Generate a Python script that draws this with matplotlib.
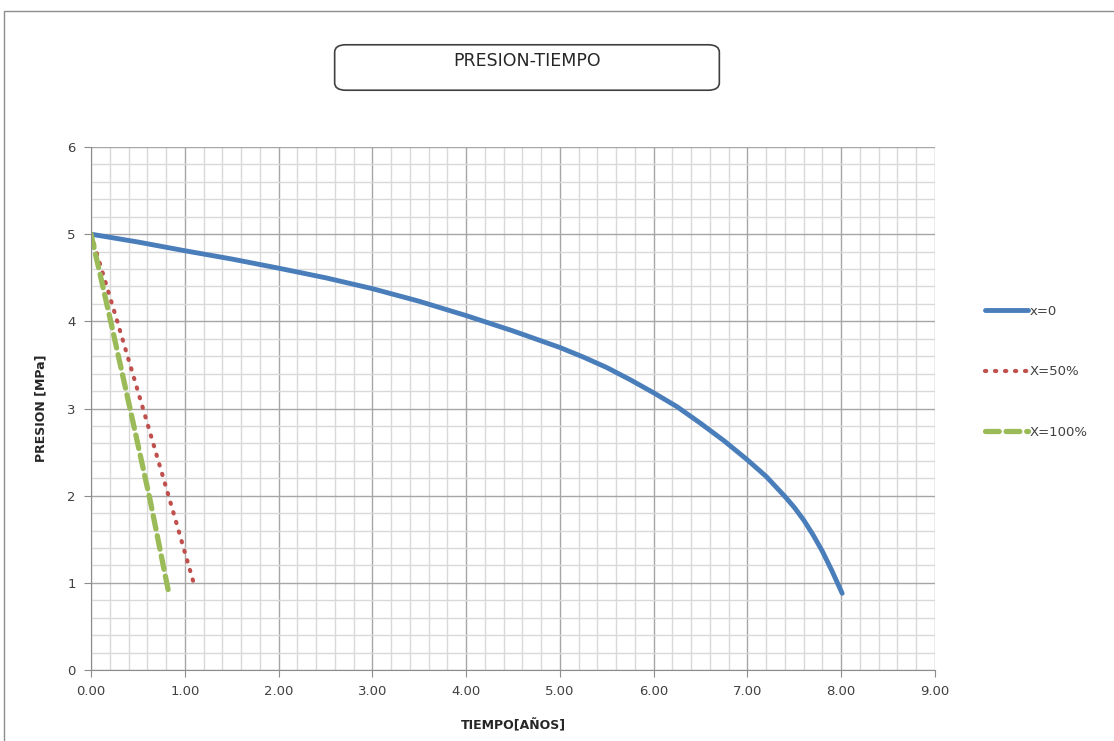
import matplotlib
matplotlib.use("Agg")
import matplotlib.pyplot as plt
from matplotlib.patches import FancyBboxPatch, Rectangle
from matplotlib.ticker import MultipleLocator, FormatStrFormatter

# x=0 curve
t_x0 = [0.0, 0.5, 1.0, 1.5, 2.0, 2.5, 3.0, 3.5, 4.0, 4.5, 5.0, 5.25, 5.5, 5.75, 6.0, 6.25, 6.5,
        6.75, 7.0, 7.2, 7.4, 7.5, 7.6, 7.7, 7.8, 7.9, 8.01]
p_x0 = [5.0, 4.91, 4.81, 4.715, 4.61, 4.50, 4.375, 4.23, 4.066, 3.89, 3.70, 3.59, 3.47, 3.33,
        3.18, 3.02, 2.83, 2.63, 2.41, 2.22, 1.99, 1.865, 1.72, 1.55, 1.36, 1.14, 0.88]

# X=50% curve
t_x50 = [0.0, 0.28, 0.56, 0.84, 1.10]
p_x50 = [5.0, 4.0, 2.98, 1.95, 0.98]

# X=100% curve
t_x100 = [0.0, 0.21, 0.42, 0.63, 0.83]
p_x100 = [5.0, 4.0, 2.98, 1.95, 0.88]

fig = plt.figure(figsize=(11.14, 7.41), dpi=100)
fig.patch.set_facecolor("white")

# outer chart frame
fig.add_artist(Rectangle((4 / 1114, -0.05), 1.1, 1 - 11 / 741 + 0.05,
                         transform=fig.transFigure, fill=False,
                         edgecolor="#8c8c8c", linewidth=1.0))

ax = fig.add_axes([91 / 1114, 1 - 670 / 741, (935 - 91) / 1114, (670 - 147) / 741])

ax.plot(t_x0, p_x0, color="#4a7ebb", linewidth=3.5, solid_capstyle="round",
        solid_joinstyle="round", label="x=0")
ax.plot(t_x50, p_x50, color="#c0504d", linewidth=3, linestyle=(0, (0.3, 2.1)),
        dash_capstyle="round", label="X=50%")
ax.plot(t_x100, p_x100, color="#9bbb59", linewidth=3.8, linestyle=(0, (2.6, 1.3)),
        dash_capstyle="round", label="X=100%")

ax.set_xlim(0, 9)
ax.set_ylim(0, 6)
ax.xaxis.set_major_locator(MultipleLocator(1))
ax.xaxis.set_minor_locator(MultipleLocator(0.2))
ax.yaxis.set_major_locator(MultipleLocator(1))
ax.yaxis.set_minor_locator(MultipleLocator(0.2))
ax.xaxis.set_major_formatter(FormatStrFormatter("%.2f"))

ax.grid(True, which="major", color="#a6a6a6", linewidth=1.0)
ax.grid(True, which="minor", color="#d9d9d9", linewidth=1.0)
ax.set_axisbelow(True)

for side in ["top", "right"]:
    ax.spines[side].set_visible(False)
ax.spines["left"].set_color("#8c8c8c")
ax.spines["bottom"].set_color("#8c8c8c")

ax.tick_params(which="major", length=5, color="#8c8c8c", labelsize=9.5,
               labelcolor="#404040", pad=6)
ax.tick_params(which="minor", length=0)

ax.set_xlabel("TIEMPO[AÑOS]", fontsize=9, fontweight="bold", color="#262626", labelpad=14)
ax.set_ylabel("PRESION [MPa]", fontsize=9, fontweight="bold", color="#262626", labelpad=14)

ax.legend(loc="upper left", bbox_to_anchor=(973 / 1114, 1 - 293 / 741),
          bbox_transform=fig.transFigure, frameon=False, fontsize=9.5,
          labelcolor="#404040", handlelength=3.3, handletextpad=0.1,
          labelspacing=3.6)

# title box
fig.add_artist(FancyBboxPatch((338 / 1114, 1 - 88 / 741), (716 - 338) / 1114, (88 - 47) / 741,
                              boxstyle="round,pad=0.003,rounding_size=0.01",
                              transform=fig.transFigure, facecolor="white",
                              edgecolor="#404040", linewidth=1.2))
fig.text(527 / 1114, 1 - 61 / 741, "PRESION-TIEMPO", ha="center", va="center",
         fontsize=12.5, color="#262626")

plt.savefig("out.png", dpi=100, facecolor="white")
plt.close(fig)
